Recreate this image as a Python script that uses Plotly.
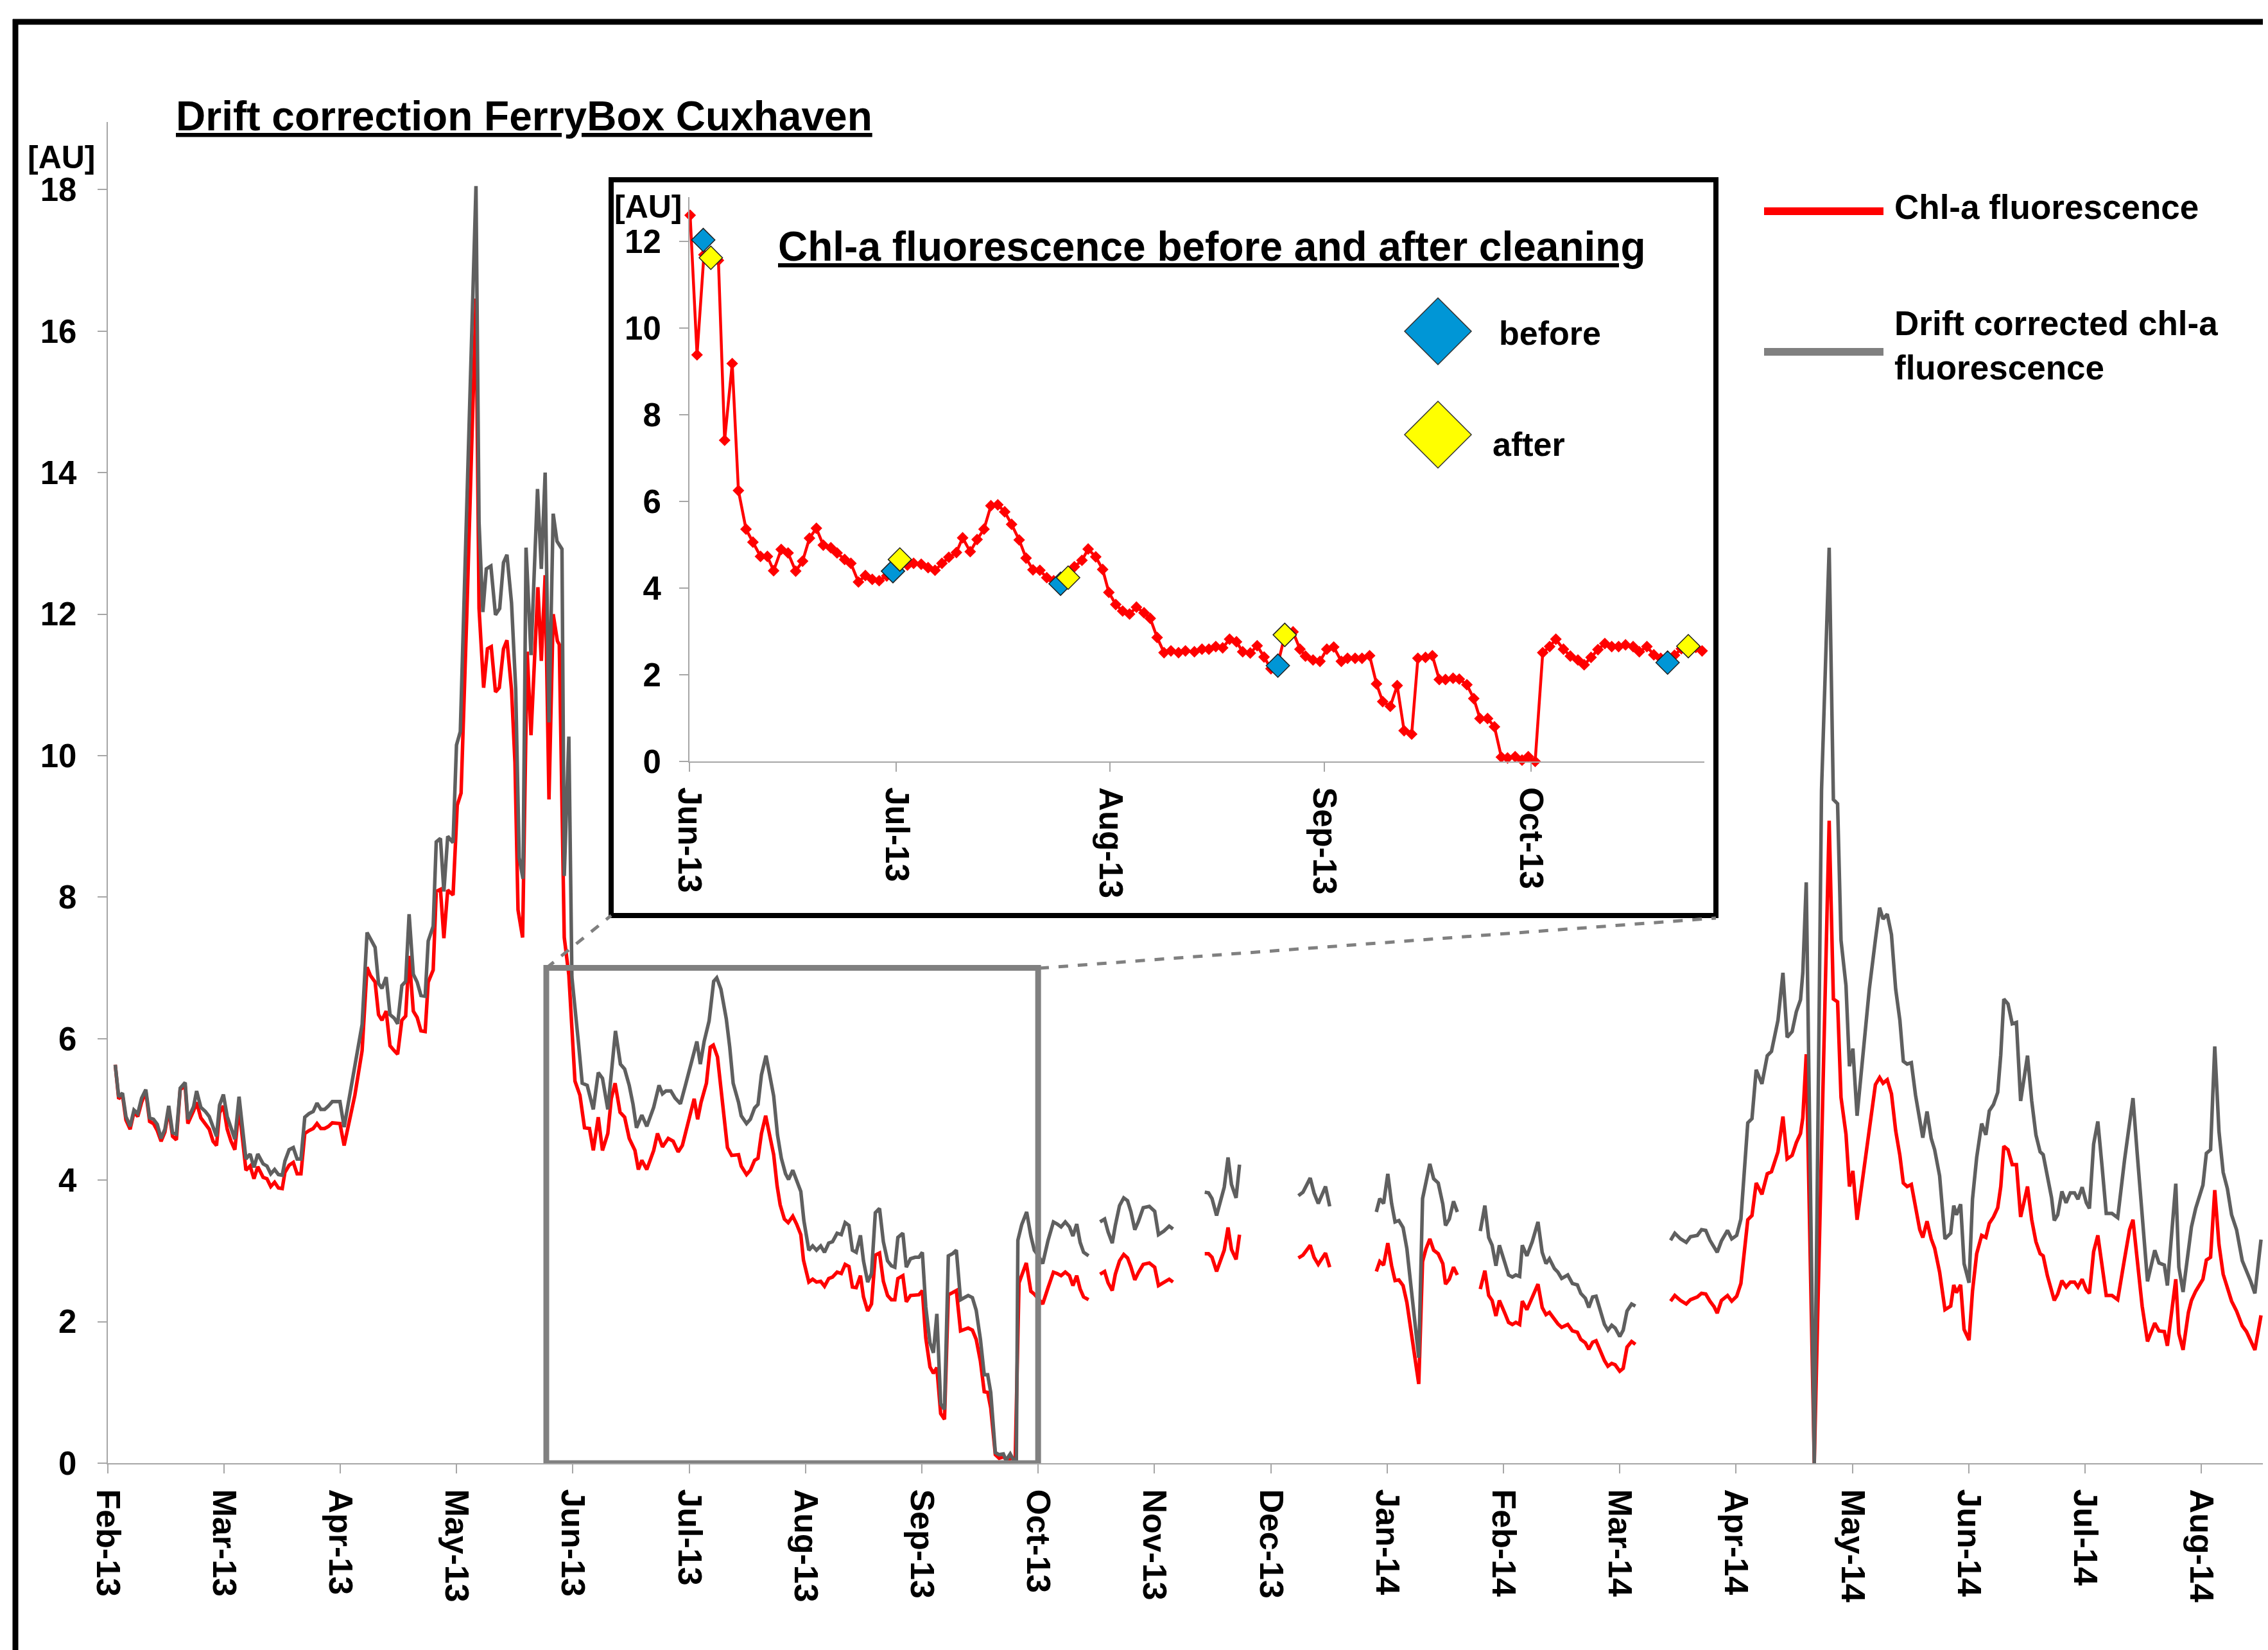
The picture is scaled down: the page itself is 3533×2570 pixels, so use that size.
import pandas as pd
import plotly.graph_objects as go

W, H = 3533, 2570          # browser window
PAGE_OFFSET = 8            # default page margin around the figure
FIG_W, FIG_H = W - PAGE_OFFSET, H - PAGE_OFFSET
FONT = "Liberation Sans, Arial, Helvetica, sans-serif"

MAIN_START = pd.Timestamp("2013-02-01")
INSET_START = pd.Timestamp("2013-06-01")

# ---------------- main chart data (days since 1 Feb 2013; None = no data) ----------------
gray_day = [
    2.0, 2.9, 3.9, 4.8, 5.9, 6.9, 7.9, 8.9, 10.0, 11.0, 12.0, 13.0, 14.0, 15.0, 16.0, 17.0, 18.0, 19.0, 20.3, 21.0,
    22.5, 23.3, 24.4, 25.6, 26.6, 27.6, 28.5, 29.3, 30.3, 31.3, 32.3, 33.3, 34.4, 36.2, 37.3, 38.3, 39.3, 40.7, 41.7,
    42.7, 43.7, 44.7, 45.7, 46.4, 47.5, 48.6, 49.6, 50.6, 51.6, 52.7, 53.8, 54.8, 55.8, 56.8, 57.8, 58.8, 59.8, 60.8,
    61.9, 64.7, 66.6, 67.9, 68.8, 70.0, 70.9, 71.8, 72.9, 73.9, 75.0, 75.9, 77.0, 78.0, 78.9, 80.0, 81.0, 82.0, 83.1,
    83.9, 85.2, 86.0, 87.1, 88.0, 89.0, 90.4, 91.3, 92.3, 93.5, 95.0, 96.4, 97.2, 98.2, 99.1, 100.3, 101.5, 102.6,
    103.6, 104.5, 105.7, 106.8, 107.7, 108.7, 109.5, 110.8, 112.5, 113.5, 114.5, 115.5, 116.6, 117.6, 118.9, 119.5,
    120.7, 121.5, 123.2, 124.2, 125.5, 127.1, 128.4, 129.5, 130.9, 131.8, 132.9, 134.2, 135.3, 136.5, 137.5, 138.4,
    139.8, 141.1, 142.9, 144.3, 145.2, 146.1, 147.4, 148.5, 149.9, 151.2, 152.3, 154.2, 155.1, 156.1, 157.4, 158.6,
    159.4, 160.5, 161.9, 162.8, 163.7, 165.1, 165.8, 167.2, 168.2, 169.3, 170.2, 171.1, 172.3, 173.2, 174.3, 175.3,
    176.3, 177.4, 178.2, 179.3, 180.3, 181.4, 182.2, 183.5, 184.5, 185.5, 186.6, 187.6, 188.7, 189.7, 190.9, 192.0,
    193.0, 194.0, 194.9, 195.9, 197.0, 197.8, 198.9, 199.9, 200.9, 202.0, 203.0, 204.1, 205.1, 206.0, 206.8, 208.1,
    209.0, 210.1, 211.3, 212.3, 213.2, 214.1, 215.2, 216.1, 217.0, 218.0, 219.0, 220.0, 221.1, 222.1, 223.2, 224.2,
    225.2, 226.3, 227.3, 228.4, 229.4, 230.3, 231.1, 232.3, 233.3, 234.4, 235.1, 236.2, 237.1, 237.8, 238.2, 239.2,
    240.5, 241.6, 242.5, 243.6, 244.7, 246.1, 247.5, 248.5, 249.5, 250.6, 251.7, 252.6, 253.6, 254.5, 255.4, 256.7,
    258.2,
    259.7, 260.9, 261.8, 262.9, 263.7, 264.8, 265.9, 266.9, 267.8, 268.8, 269.7, 271.0, 272.6, 274.0, 275.0, 276.4,
    277.8, 278.8,
    283.0,
    287.1, 288.1, 289.0, 290.2, 292.2, 293.2, 294.1, 295.3, 296.2,
    304.0,
    311.6, 312.8, 314.7, 315.7, 316.8, 318.7, 319.8,
    326.0,
    332.0, 332.9, 333.9, 335.0, 336.0, 336.9, 337.9, 339.0, 340.0, 340.9, 341.9, 343.1, 344.1, 345.0, 346.0, 347.0,
    348.2, 349.4, 350.1, 351.1, 352.2, 353.2,
    356.0,
    359.2, 360.4, 361.4, 362.3, 363.3, 364.2, 365.7, 366.6, 367.6, 368.5, 369.5, 370.2, 371.4, 372.8, 374.3, 375.4,
    376.4, 377.3, 378.6, 379.5, 380.5, 382.1, 383.3, 384.6, 385.5, 386.7, 387.6, 388.6, 389.5, 390.7, 391.7, 392.6,
    393.6, 394.5, 395.7, 396.6, 397.6, 398.8, 399.8,
    404.0,
    409.0, 410.1, 411.6, 413.1, 414.2, 416.0, 417.1, 418.2, 419.3, 420.4, 421.2, 422.3, 423.9, 425.0, 426.3, 427.4,
    429.2, 430.3, 431.4, 432.9, 434.3, 435.4, 437.1, 438.4, 439.5, 440.8, 441.9, 443.0, 443.6, 444.5, 446.6, 448.5,
    450.5, 451.6, 452.7, 453.6, 454.9, 455.8, 456.7, 457.8, 459.3, 461.0, 462.6, 463.7, 464.6, 465.7, 466.8, 467.9,
    469.0, 469.9, 470.9, 472.0, 473.1, 474.2, 475.0, 476.1, 477.2, 478.1, 479.4, 480.8, 482.3, 483.1, 483.8, 484.9,
    485.8, 487.1, 488.0, 489.1, 490.4, 491.5, 492.4, 493.5, 494.6, 495.4, 496.2, 497.3, 498.4, 499.5, 500.6, 502.4,
    503.5, 504.6, 505.7, 506.5, 507.6, 508.7, 509.4, 510.3, 511.4, 512.5, 513.6, 514.7, 515.6, 516.7, 517.8, 518.6,
    519.7, 520.8, 521.9, 523.0, 524.5, 526.0, 527.8, 529.1, 530.0, 531.1, 532.4, 533.8, 535.7, 536.8, 538.2, 539.0,
    541.2, 542.0, 543.1, 544.5, 545.3, 546.4, 547.5, 548.3, 549.2, 550.3, 551.4, 552.5, 553.6, 554.7, 555.8, 557.1,
    558.6, 559.7, 560.8, 561.9, 563.5,
]
gray_val = [
    5.63, 5.18, 5.23, 4.90, 4.76, 4.99, 4.94, 5.16, 5.28, 4.88, 4.86, 4.79, 4.59, 4.72, 5.05, 4.67, 4.65, 5.30, 5.38, 4.86,
    5.04, 5.26, 5.03, 4.97, 4.90, 4.75, 4.62, 5.06, 5.21, 4.90, 4.72, 4.58, 5.18, 4.30, 4.37, 4.18, 4.37, 4.23, 4.20,
    4.09, 4.15, 4.08, 4.07, 4.27, 4.43, 4.46, 4.30, 4.30, 4.89, 4.94, 4.97, 5.09, 5.00, 5.00, 5.05, 5.11, 5.11, 5.11,
    4.75, 5.64, 6.20, 7.50, 7.40, 7.29, 6.78, 6.71, 6.87, 6.34, 6.29, 6.21, 6.75, 6.81, 7.76, 6.91, 6.80, 6.61, 6.60,
    7.38, 7.59, 8.78, 8.83, 8.08, 8.86, 8.77, 10.15, 10.34, 12.6, 15.3, 18.05, 13.3, 12.03, 12.64, 12.68, 11.99, 12.08,
    12.73, 12.84, 12.16, 10.94, 8.56, 8.26, 12.94, 11.42, 13.77, 12.64, 14.00, 10.47, 13.42, 13.03, 12.92, 8.30,
    10.27, 6.87, 5.95, 5.37, 5.34, 5.00, 5.52, 5.44, 5.00, 5.47, 6.11, 5.64, 5.57, 5.34, 5.07, 4.74,
    4.92, 4.76, 5.03, 5.34, 5.22, 5.26, 5.26, 5.16, 5.08, 5.34, 5.57, 5.96, 5.64, 5.96, 6.25, 6.81,
    6.86, 6.70, 6.28, 5.88, 5.37, 5.10, 4.91, 4.80, 4.86, 5.02, 5.07, 5.49, 5.76, 5.49, 5.19, 4.64,
    4.31, 4.09, 4.01, 4.14, 4.01, 3.84, 3.43, 3.01, 3.07, 3.01, 3.07, 2.98, 3.11, 3.13, 3.25, 3.23,
    3.40, 3.36, 3.01, 2.98, 3.22, 2.86, 2.56, 2.68, 3.54, 3.60, 3.13, 2.86, 2.79, 2.77, 3.19, 3.25,
    2.77, 2.89, 2.91, 2.91, 2.98, 2.21, 1.70, 1.56, 2.11, 0.84, 0.76, 2.93, 2.96, 3.01, 2.31, 2.34,
    2.37, 2.34, 2.16, 1.75, 1.25, 1.25, 1.00, 0.15, 0.12, 0.13, 0.04, 0.13, 0.04, 0.04, 3.15, 3.37,
    3.55, 3.21, 3.01, 2.93, 2.82, 3.15, 3.41, 3.38, 3.34, 3.41, 3.34, 3.21, 3.38, 3.12, 2.98, 2.93,
    None,
    3.41, 3.45, 3.27, 3.11, 3.36, 3.64, 3.75, 3.71, 3.55, 3.30, 3.41, 3.61, 3.63, 3.56, 3.23, 3.28,
    3.35, 3.31,
    None,
    3.83, 3.82, 3.74, 3.50, 3.90, 4.32, 3.94, 3.75, 4.22,
    None,
    3.78, 3.83, 4.03, 3.82, 3.67, 3.91, 3.63,
    None,
    3.55, 3.74, 3.67, 4.09, 3.67, 3.41, 3.43, 3.33, 3.03, 2.61, 2.12, 1.49, 3.74, 3.97, 4.23, 4.02,
    3.96, 3.66, 3.36, 3.45, 3.70, 3.55,
    None,
    3.28, 3.64, 3.19, 3.08, 2.79, 3.08, 2.82, 2.66, 2.63, 2.66, 2.64, 3.08, 2.93, 3.13, 3.41, 2.98,
    2.82, 2.89, 2.75, 2.70, 2.61, 2.66, 2.54, 2.52, 2.40, 2.33, 2.20, 2.35, 2.36, 2.14, 1.96, 1.88,
    1.95, 1.91, 1.79, 1.88, 2.15, 2.25, 2.22,
    None,
    3.15, 3.25, 3.17, 3.12, 3.20, 3.22, 3.30, 3.29, 3.15, 3.06, 2.98, 3.14, 3.29, 3.17, 3.22, 3.45,
    4.81, 4.87, 5.56, 5.36, 5.76, 5.82, 6.26, 6.93, 6.02, 6.10, 6.38, 6.55, 6.93, 8.21, 0.0, 9.51,
    12.94, 9.38, 9.32, 7.39, 6.75, 5.61, 5.86, 4.91, 5.78, 6.70, 7.40, 7.85, 7.69, 7.76, 7.47, 6.70,
    6.26, 5.68, 5.64, 5.66, 5.20, 4.83, 4.60, 4.97, 4.59, 4.43, 4.06, 3.17, 3.25, 3.64, 3.51, 3.66,
    2.82, 2.55, 3.73, 4.32, 4.80, 4.64, 4.98, 5.07, 5.24, 5.77, 6.56, 6.49, 6.21, 6.23, 5.12, 5.76,
    5.12, 4.64, 4.40, 4.36, 4.03, 3.75, 3.43, 3.51, 3.84, 3.68, 3.82, 3.82, 3.73, 3.90, 3.68, 3.60,
    4.51, 4.83, 4.20, 3.53, 3.53, 3.47, 4.29, 4.85, 5.16, 4.38, 3.51, 2.57, 3.01, 2.83, 2.80, 2.51,
    3.95, 2.77, 2.42, 3.07, 3.34, 3.60, 3.79, 3.93, 4.38, 4.43, 5.89, 4.69, 4.11, 3.88, 3.51, 3.30,
    2.86, 2.73, 2.57, 2.40, 3.16,
]

red_day = [
    2.0, 2.9, 3.9, 4.8, 5.9, 6.9, 7.9, 8.9, 10.0, 11.0, 12.0, 13.0, 14.0, 15.0, 16.0, 17.0, 18.0, 19.0, 20.3, 21.0,
    22.5, 23.3, 24.4, 25.6, 26.6, 27.6, 28.5, 29.3, 30.3, 31.3, 32.3, 33.3, 34.4, 36.2, 37.3, 38.3, 39.3, 40.7, 41.7,
    42.7, 43.7, 44.7, 45.7, 46.4, 47.5, 48.6, 49.6, 50.6, 51.6, 52.7, 53.8, 54.8, 55.8, 56.8, 57.8, 58.8, 59.8, 60.8,
    61.9, 64.7, 66.6, 67.9, 68.8, 70.0, 70.9, 71.8, 72.9, 73.9, 75.0, 75.9, 77.0, 78.0, 78.9, 80.0, 81.0, 82.0, 83.1,
    83.9, 85.2, 86.0, 87.1, 88.0, 89.0, 90.4, 91.5, 92.5, 94.0, 95.3, 96.4, 97.2, 98.4, 99.4, 100.4, 101.5, 102.5,
    103.6, 104.5, 105.7, 106.6, 107.4, 108.6, 109.8, 110.8, 112.6, 113.5, 114.5, 115.5, 116.6, 117.7, 118.2, 119.5,
    120.7, 121.4, 122.3, 123.6, 124.8, 126.1, 127.1, 128.4, 129.5, 130.9, 131.8, 132.8, 134.1, 135.3, 136.5, 138.0,
    138.9, 139.8, 141.1, 142.9, 143.9, 145.2, 146.7, 148.0, 149.3, 150.4, 151.7, 152.6, 153.5, 154.4, 155.3, 156.7,
    157.7, 158.5, 159.6, 160.9, 162.2, 163.3, 165.1, 165.8, 167.2, 168.2, 169.3, 170.2, 171.1, 172.2, 173.2, 174.3,
    175.2, 176.0, 177.1, 178.1, 179.3, 180.3, 181.4, 182.1, 183.5, 184.5, 185.5, 186.6, 187.6, 188.7, 189.7, 190.9,
    192.0, 193.0, 194.0, 194.9, 195.9, 197.0, 197.8, 198.9, 199.9, 200.9, 202.0, 203.0, 204.1, 205.1, 206.0, 206.8,
    208.1, 209.0, 210.1, 211.3, 212.3, 213.2, 214.1, 215.2, 216.1, 217.0, 218.0, 219.0, 220.0, 221.1, 222.1, 223.2,
    224.2, 225.2, 226.3, 227.3, 228.4, 229.4, 230.3, 231.1, 232.3, 233.3, 234.4, 235.4, 236.5, 237.5, 238.5, 239.4,
    240.4, 241.6, 242.5, 243.6, 244.7, 246.1, 247.5, 248.5, 249.5, 250.6, 251.7, 252.6, 253.6, 254.5, 255.4, 256.7,
    258.2,
    259.7, 260.9, 261.8, 262.9, 263.7, 264.8, 265.9, 266.9, 267.8, 268.8, 269.7, 271.0, 272.6, 274.0, 275.0, 276.4,
    277.8, 278.8,
    283.0,
    287.1, 288.1, 289.0, 290.2, 292.2, 293.2, 294.1, 295.3, 296.2,
    304.0,
    311.6, 312.8, 314.7, 315.7, 316.8, 318.7, 319.8,
    326.0,
    332.0, 332.9, 333.9, 335.0, 336.0, 336.9, 337.9, 339.0, 340.0, 340.9, 341.9, 343.1, 344.1, 345.0, 346.0, 347.0,
    348.2, 349.4, 350.1, 351.1, 352.2, 353.2,
    356.0,
    359.2, 360.4, 361.4, 362.3, 363.3, 364.2, 365.7, 366.6, 367.6, 368.5, 369.5, 370.2, 371.4, 372.8, 374.3, 375.4,
    376.4, 377.3, 378.6, 379.5, 380.5, 382.1, 383.3, 384.6, 385.5, 386.7, 387.6, 388.6, 389.5, 390.7, 391.7, 392.6,
    393.6, 394.5, 395.7, 396.6, 397.6, 398.8, 399.8,
    404.0,
    409.0, 410.1, 411.6, 413.1, 414.2, 416.0, 417.1, 418.2, 419.3, 420.4, 421.2, 422.3, 423.9, 425.0, 426.3, 427.4,
    429.2, 430.3, 431.4, 432.9, 434.3, 435.4, 437.1, 438.4, 439.5, 440.8, 441.9, 443.0, 443.6, 444.5, 446.6,
    450.5, 451.6, 452.7, 453.6, 454.9, 455.8, 456.7, 457.8, 459.3, 461.0, 462.6, 463.7, 464.6, 465.7, 466.8, 467.9,
    469.0, 469.9, 470.9, 472.0, 473.1, 474.2, 475.0, 476.1, 477.2, 478.1, 479.4, 480.8, 482.3, 483.1, 483.8, 484.9,
    485.8, 487.1, 488.0, 489.1, 490.4, 491.5, 492.4, 493.5, 494.6, 495.4, 496.2, 497.3, 498.4, 499.5, 500.6, 502.4,
    503.5, 504.6, 505.7, 506.5, 507.6, 508.7, 509.4, 510.3, 511.4, 512.5, 513.6, 514.7, 515.6, 516.7, 517.8, 518.6,
    519.7, 520.8, 521.9, 523.0, 524.5, 526.0, 527.8, 529.1, 530.0, 531.1, 532.4, 533.8, 535.7, 536.8, 538.2, 539.0,
    541.2, 542.0, 543.1, 544.5, 545.3, 546.4, 547.5, 548.3, 549.2, 550.3, 551.4, 552.5, 553.6, 554.7, 555.8, 557.1,
    558.6, 559.7, 560.8, 561.9, 563.5,
]
red_val = [
    5.63, 5.15, 5.20, 4.85, 4.72, 4.96, 4.90, 5.10, 5.25, 4.83, 4.80, 4.70, 4.55, 4.68, 5.00, 4.62, 4.57, 5.28, 5.33, 4.80,
    4.98, 5.10, 4.88, 4.80, 4.72, 4.55, 4.49, 4.95, 5.05, 4.72, 4.55, 4.43, 5.03, 4.14, 4.20, 4.02, 4.19, 4.04, 4.02,
    3.91, 3.97, 3.89, 3.88, 4.11, 4.21, 4.25, 4.09, 4.09, 4.66, 4.70, 4.73, 4.80, 4.73, 4.73, 4.76, 4.81, 4.80, 4.80,
    4.49, 5.20, 5.83, 7.01, 6.89, 6.80, 6.34, 6.26, 6.39, 5.90, 5.83, 5.78, 6.26, 6.32, 7.17, 6.39, 6.30, 6.11, 6.10,
    6.80, 6.97, 8.08, 8.11, 7.42, 8.10, 8.03, 9.30, 9.47, 12.0, 14.3, 16.46, 12.08, 10.96, 11.51, 11.54, 10.90, 10.96,
    11.51, 11.63, 10.93, 9.90, 7.82, 7.43, 11.47, 10.29, 12.38, 11.34, 12.55, 9.38, 12.00, 11.62, 11.57, 7.43,
    6.90, 6.28, 5.40, 5.20, 4.74, 4.73, 4.42, 4.89, 4.42, 4.66, 5.15, 5.37, 4.96, 4.89, 4.59, 4.42,
    4.15, 4.28, 4.15, 4.42, 4.66, 4.47, 4.59, 4.55, 4.40, 4.49, 4.79, 4.96, 5.15, 4.86, 5.10, 5.37,
    5.88, 5.91, 5.74, 5.07, 4.46, 4.35, 4.36, 4.20, 4.08, 4.14, 4.28, 4.31, 4.66, 4.91, 4.63, 4.36,
    3.92, 3.65, 3.45, 3.40, 3.49, 3.38, 3.23, 2.87, 2.56, 2.60, 2.56, 2.57, 2.50, 2.61, 2.63, 2.70,
    2.68, 2.81, 2.78, 2.49, 2.48, 2.65, 2.35, 2.15, 2.25, 2.94, 2.97, 2.57, 2.37, 2.31, 2.31, 2.61,
    2.65, 2.28, 2.37, 2.38, 2.38, 2.44, 1.77, 1.36, 1.27, 1.35, 0.70, 0.62, 2.38, 2.41, 2.44, 1.87,
    1.89, 1.91, 1.88, 1.75, 1.44, 1.01, 1.00, 0.78, 0.12, 0.07, 0.09, 0.04, 0.07, 0.04, 2.55, 2.68,
    2.83, 2.43, 2.39, 2.32, 2.25, 2.48, 2.70, 2.68, 2.65, 2.70, 2.65, 2.51, 2.65, 2.46, 2.35, 2.31,
    None,
    2.67, 2.71, 2.55, 2.44, 2.67, 2.86, 2.95, 2.90, 2.77, 2.59, 2.69, 2.81, 2.83, 2.77, 2.51, 2.55,
    2.60, 2.56,
    None,
    2.96, 2.96, 2.91, 2.71, 3.01, 3.33, 3.02, 2.88, 3.23,
    None,
    2.90, 2.94, 3.08, 2.91, 2.81, 2.97, 2.77,
    None,
    2.71, 2.85, 2.80, 3.11, 2.79, 2.58, 2.59, 2.51, 2.27, 1.92, 1.50, 1.12, 2.85, 3.03, 3.17, 3.01,
    2.96, 2.82, 2.53, 2.60, 2.77, 2.66,
    None,
    2.46, 2.72, 2.37, 2.30, 2.08, 2.30, 2.11, 1.99, 1.96, 1.99, 1.96, 2.29, 2.17, 2.35, 2.53, 2.20,
    2.10, 2.13, 2.03, 1.97, 1.92, 1.96, 1.87, 1.85, 1.75, 1.70, 1.61, 1.71, 1.73, 1.57, 1.45, 1.37,
    1.41, 1.39, 1.30, 1.34, 1.64, 1.72, 1.68,
    None,
    2.29, 2.37, 2.30, 2.25, 2.31, 2.35, 2.40, 2.39, 2.29, 2.21, 2.12, 2.30, 2.37, 2.29, 2.36, 2.54,
    3.44, 3.50, 3.96, 3.80, 4.09, 4.12, 4.40, 4.90, 4.30, 4.35, 4.53, 4.66, 4.88, 5.78, 0.0,
    9.08, 6.56, 6.52, 5.17, 4.65, 3.91, 4.13, 3.44, 4.04, 4.65, 5.35, 5.45, 5.37, 5.42, 5.22, 4.70,
    4.35, 3.96, 3.91, 3.94, 3.61, 3.30, 3.19, 3.42, 3.17, 3.04, 2.70, 2.17, 2.22, 2.52, 2.41, 2.52,
    1.89, 1.74, 2.43, 2.96, 3.22, 3.19, 3.39, 3.48, 3.61, 3.91, 4.48, 4.43, 4.22, 4.22, 3.48, 3.91,
    3.44, 3.13, 2.96, 2.93, 2.65, 2.43, 2.30, 2.39, 2.58, 2.49, 2.56, 2.56, 2.49, 2.60, 2.45, 2.40,
    2.99, 3.22, 2.78, 2.37, 2.37, 2.31, 2.89, 3.30, 3.44, 2.87, 2.22, 1.72, 1.98, 1.87, 1.86, 1.66,
    2.60, 1.83, 1.60, 2.13, 2.30, 2.43, 2.52, 2.60, 2.87, 2.91, 3.86, 3.09, 2.67, 2.49, 2.29, 2.15,
    1.94, 1.86, 1.74, 1.60, 2.09,
]

# ---------------- inset data (days since 1 Jun 2013) ----------------
inset_day = [
    0.1, 1.1, 2.1, 3.1, 4.2, 5.1, 6.2, 7.1, 8.2, 9.2, 10.3, 11.3, 12.2, 13.3, 14.3, 15.4, 16.4, 17.4, 18.4, 19.4,
    20.5, 21.4, 22.5, 23.4, 24.5, 25.5, 26.5, 27.5, 28.6, 29.5, 30.5, 31.6, 32.5, 33.6, 34.6, 35.6, 36.6, 37.6, 38.7,
    39.6, 40.7, 41.7, 42.7, 43.7, 44.7, 45.7, 46.7, 47.8, 48.8, 49.8, 50.8, 51.8, 52.8, 53.8, 54.9, 55.8, 56.9, 57.8,
    58.9, 59.9, 60.8, 61.8, 62.8, 63.8, 64.8, 65.9, 66.8, 67.8, 68.8, 69.8, 70.9, 71.9, 73.2, 74.3, 75.3, 76.3, 77.3,
    78.3, 79.3, 80.2, 81.3, 82.3, 83.3, 84.3, 85.3, 86.3, 87.5, 88.5, 89.3, 90.4, 91.4, 92.4, 93.4, 94.5, 95.4, 96.5,
    97.5, 98.6, 99.6, 100.5, 101.6, 102.6, 103.6, 104.7, 105.6, 106.7, 107.7, 108.7, 109.6, 110.7, 111.6, 112.7,
    113.7, 114.6, 115.7, 116.7, 117.7, 118.6, 119.7, 120.7, 121.6, 122.6, 123.7, 124.7, 125.6, 126.7, 127.7, 128.8,
    129.7, 130.7, 131.7, 132.7, 133.7, 134.7, 135.7, 136.8, 137.7, 138.8, 139.8, 140.8, 141.8, 142.8, 143.8, 144.8,
    145.9, 146.8,
]
inset_val = [
    12.60, 9.38, 11.69, 11.60, 11.56, 7.41, 9.18, 6.25, 5.36, 5.06, 4.73, 4.73, 4.40, 4.89, 4.81, 4.39, 4.62, 5.15, 5.38,
    4.99, 4.93, 4.81, 4.66, 4.57, 4.14, 4.29, 4.20, 4.17, 4.28, 4.39, 4.55, 4.53, 4.57, 4.55, 4.47, 4.41, 4.57, 4.71,
    4.82, 5.16, 4.84, 5.12, 5.36, 5.90, 5.92, 5.76, 5.47, 5.11, 4.69, 4.42, 4.41, 4.24, 4.17, 4.10, 4.30, 4.49, 4.64,
    4.90, 4.72, 4.43, 3.90, 3.62, 3.47, 3.40, 3.56, 3.43, 3.30, 2.86, 2.51, 2.55, 2.51, 2.55, 2.53, 2.59, 2.59, 2.65,
    2.62, 2.82, 2.76, 2.53, 2.50, 2.67, 2.41, 2.14, 2.25, 2.90, 2.99, 2.59, 2.43, 2.34, 2.31, 2.59, 2.64, 2.31, 2.38,
    2.38, 2.38, 2.44, 1.79, 1.38, 1.27, 1.75, 0.71, 0.63, 2.38, 2.40, 2.44, 1.89, 1.89, 1.92, 1.90, 1.77, 1.45, 0.99,
    0.99, 0.80, 0.10, 0.08, 0.11, 0.03, 0.11, 0.00, 2.51, 2.65, 2.82, 2.59, 2.43, 2.34, 2.23, 2.40, 2.58, 2.72, 2.65,
    2.65, 2.69, 2.65, 2.53, 2.65, 2.46, 2.38, 2.28, 2.45, 2.60, 2.68, 2.63, 2.55,
]
before_day = [2.0, 29.5, 53.8, 85.3, 141.8]
before_val = [12.03, 4.39, 4.10, 2.21, 2.28]
after_day = [3.1, 30.5, 54.9, 86.3, 144.8]
after_val = [11.62, 4.66, 4.24, 2.92, 2.66]

# main axis ticks are evenly spaced (1/12 year apart)
MAIN_TICK_STEP = 365.25 / 12
MAIN_TICK_N = 19
ZOOM_DAYS = (114.8, 243.5)   # zoom window drawn on the main chart (days since start)
ZOOM_TOP = 7.0

RED = "#FF0000"
GRAY = "#5F5F5F"
AXIS = "#A6A6A6"
BLUE = "#0096D6"
YELLOW = "#FFFF00"


def dates(start, days):
    return [start + pd.Timedelta(days=d) for d in days]


def px(x):
    """window pixel -> paper fraction"""
    return (x - PAGE_OFFSET) / FIG_W


def py(y):
    return 1 - (y - PAGE_OFFSET) / FIG_H


def font(size):
    return dict(family=FONT, size=size, color="black", weight="bold")


fig = go.Figure()
fig.add_trace(go.Scatter(x=dates(MAIN_START, red_day), y=red_val, mode="lines",
                         line=dict(color=RED, width=5.5), xaxis="x", yaxis="y",
                         showlegend=False, hoverinfo="skip"))
fig.add_trace(go.Scatter(x=dates(MAIN_START, gray_day), y=gray_val, mode="lines",
                         line=dict(color=GRAY, width=5.5), xaxis="x", yaxis="y",
                         showlegend=False, hoverinfo="skip"))
fig.add_trace(go.Scatter(x=dates(INSET_START, inset_day), y=inset_val, mode="lines+markers",
                         line=dict(color=RED, width=4.5),
                         marker=dict(symbol="diamond", size=14, color=RED),
                         xaxis="x2", yaxis="y2", showlegend=False, cliponaxis=False))
fig.add_trace(go.Scatter(x=dates(INSET_START, before_day), y=before_val, mode="markers",
                         marker=dict(symbol="diamond", size=28, color=BLUE, line=dict(color="#202020", width=1.5)),
                         xaxis="x2", yaxis="y2", showlegend=False, cliponaxis=False))
fig.add_trace(go.Scatter(x=dates(INSET_START, after_day), y=after_val, mode="markers",
                         marker=dict(symbol="diamond", size=28, color=YELLOW, line=dict(color="#202020", width=1.5)),
                         xaxis="x2", yaxis="y2", showlegend=False, cliponaxis=False))

main_ticks = [(MAIN_START + pd.Timedelta(days=k * MAIN_TICK_STEP)).isoformat() for k in range(MAIN_TICK_N)]
axis_common = dict(showline=True, linecolor=AXIS, linewidth=2, showgrid=False, zeroline=False,
                   ticks="outside", tickcolor=AXIS, tickwidth=2, fixedrange=True, automargin=False)

fig.update_layout(
    template="none",
    width=FIG_W, height=FIG_H, autosize=False,
    margin=dict(l=0, r=0, t=0, b=0, pad=0, autoexpand=False),
    paper_bgcolor="white", plot_bgcolor="rgba(0,0,0,0)",
    showlegend=False,
    xaxis=dict(domain=[px(167.6), 1.0], type="date",
               range=[MAIN_START.isoformat(), (MAIN_START + pd.Timedelta(days=565.33)).isoformat()],
               tickmode="array", tickvals=main_ticks, tickformat="%b-%y", tickangle=90,
               ticklen=14, tickfont=font(52), ticklabelstandoff=14, anchor="y", **axis_common),
    yaxis=dict(domain=[py(2279), py(190)], range=[0, 18.956], tick0=0, dtick=2,
               ticklen=14, tickfont=font(51), ticklabelstandoff=22, anchor="x", **axis_common),
    xaxis2=dict(domain=[px(1074), px(2655)], type="date",
                range=[INSET_START.isoformat(), (INSET_START + pd.Timedelta(days=147.13)).isoformat()],
                tick0=INSET_START.isoformat(), dtick="M1", tickformat="%b-%y", tickangle=90,
                ticklen=14, tickfont=font(51), ticklabelstandoff=14, anchor="y2", **axis_common),
    yaxis2=dict(domain=[py(1186), py(307)], range=[0, 13.02], tick0=0, dtick=2,
                ticklen=14, tickfont=font(51), ticklabelstandoff=18, anchor="x2", **axis_common),
)

shapes = []
# outer frame (left and top edges visible)
shapes.append(dict(type="line", xref="paper", yref="paper", x0=px(24), x1=px(24), y0=py(30), y1=py(2700),
                   line=dict(color="black", width=9)))
shapes.append(dict(type="line", xref="paper", yref="paper", x0=px(20), x1=px(3600), y0=py(34), y1=py(34),
                   line=dict(color="black", width=9)))
# inset box
shapes.append(dict(type="rect", xref="paper", yref="paper", x0=px(952), x1=px(2673), y0=py(1426), y1=py(280),
                   line=dict(color="black", width=8), fillcolor="white", layer="below"))
# zoom window on the main chart
zx0 = MAIN_START + pd.Timedelta(days=ZOOM_DAYS[0])
zx1 = MAIN_START + pd.Timedelta(days=ZOOM_DAYS[1])
shapes.append(dict(type="rect", xref="x", yref="y", x0=zx0.isoformat(), x1=zx1.isoformat(), y0=0, y1=ZOOM_TOP,
                   line=dict(color="#808080", width=9), layer="above"))
# dashed connectors
shapes.append(dict(type="line", xref="paper", yref="paper", x0=px(851), y0=py(1508), x1=px(952), y1=py(1426),
                   line=dict(color="#808080", width=5, dash="dash")))
shapes.append(dict(type="line", xref="paper", yref="paper", x0=px(1619), y0=py(1508), x1=px(2673), y1=py(1430),
                   line=dict(color="#808080", width=5, dash="dash")))
# main legend swatches
shapes.append(dict(type="line", xref="paper", yref="paper", x0=px(2748), x1=px(2934), y0=py(329), y1=py(329),
                   line=dict(color=RED, width=12)))
shapes.append(dict(type="line", xref="paper", yref="paper", x0=px(2748), x1=px(2934), y0=py(548), y1=py(548),
                   line=dict(color="#808080", width=12)))


# inset legend diamonds
def diamond(cx, cy, half, color):
    path = (f"M {px(cx)} {py(cy - half)} L {px(cx + half)} {py(cy)} "
            f"L {px(cx)} {py(cy + half)} L {px(cx - half)} {py(cy)} Z")
    return dict(type="path", xref="paper", yref="paper", path=path, fillcolor=color,
                line=dict(color="#303030", width=1.5))


shapes.append(diamond(2240, 516, 52, BLUE))
shapes.append(diamond(2240, 677, 52, YELLOW))
fig.update_layout(shapes=shapes)

ann = [
    dict(x=px(272), y=py(181), text="<u>Drift correction FerryBox Cuxhaven</u>", xanchor="left", yanchor="middle",
         font=font(64)),
    dict(x=px(96), y=py(245), text="[AU]", xanchor="center", yanchor="middle", font=font(50)),
    dict(x=px(1010), y=py(322), text="[AU]", xanchor="center", yanchor="middle", font=font(50)),
    dict(x=px(1210), y=py(384), text="<u>Chl-a fluorescence before and after cleaning</u>", xanchor="left",
         yanchor="middle", font=font(64)),
    dict(x=px(2333), y=py(519), text="before", xanchor="left", yanchor="middle", font=font(52)),
    dict(x=px(2323), y=py(692), text="after", xanchor="left", yanchor="middle", font=font(52)),
    dict(x=px(2949), y=py(322), text="Chl-a fluorescence", xanchor="left", yanchor="middle", font=font(53)),
    dict(x=px(2949), y=py(538), text="Drift corrected chl-a<br>fluorescence", xanchor="left", yanchor="middle",
         align="left", font=font(53)),
]
for a in ann:
    a.update(xref="paper", yref="paper", showarrow=False)
fig.update_layout(annotations=ann)

fig.write_html("out.html")
